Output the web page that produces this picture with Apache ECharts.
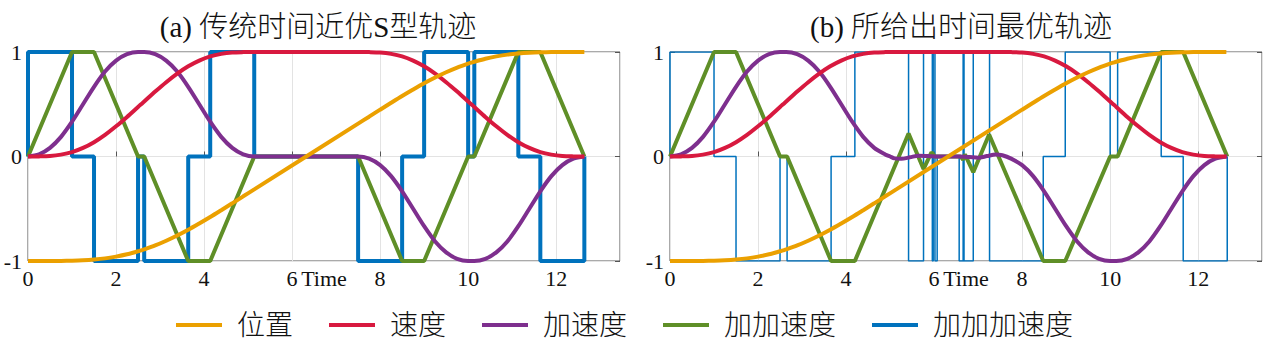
<!DOCTYPE html>
<html><head><meta charset="utf-8">
<script src="https://cdn.jsdelivr.net/npm/echarts@6/dist/echarts.min.js"></script>
<style>html,body{margin:0;padding:0;background:#fff}#c{width:1269px;height:359px}</style>
</head><body><div id="c"></div>
<script>
// ---- data ----
const titles = ['(a) 传统时间近优S型轨迹', '(b) 所给出时间最优轨迹'];
const seriesNames = ['位置', '速度', '加速度', '加加速度', '加加加速度'];
const xTicks = [0, 2, 4, 6, 8, 10, 12];
const yTicks = [-1, 0, 1];

// smooth curves (time samples shared by panel a and b for position/velocity)
const smoothT = [0,0.25,0.5,0.75,1,1.25,1.5,1.75,2,2.25,2.5,2.57,2.64,2.89,3.14,3.39,3.64,3.89,4.14,4.39,4.64,4.89,5.14,
                 7.5,7.75,8,8.25,8.5,8.75,9,9.25,9.5,9.75,10,10.07,10.14,10.39,10.64,10.89,11.14,11.39,11.64,11.89,12.14,12.39,12.64];
const posVals = [-1,-1,-1,-0.999,-0.997,-0.993,-0.986,-0.975,-0.958,-0.936,-0.907,-0.898,-0.889,-0.851,-0.806,-0.756,-0.701,-0.641,-0.579,-0.514,-0.448,-0.381,-0.315,
                 0.315,0.381,0.448,0.514,0.579,0.641,0.701,0.756,0.806,0.851,0.889,0.898,0.907,0.936,0.958,0.975,0.986,0.993,0.997,0.999,1,1,1];
const velVals = [0,0.001,0.005,0.018,0.042,0.082,0.137,0.207,0.289,0.379,0.474,0.5,0.526,0.621,0.711,0.793,0.863,0.918,0.958,0.982,0.995,0.999,1,
                 1,0.999,0.995,0.982,0.958,0.918,0.863,0.793,0.711,0.621,0.526,0.5,0.474,0.379,0.289,0.207,0.137,0.082,0.042,0.018,0.005,0.001,0];
const accA = [0,0.021,0.083,0.188,0.333,0.5,0.667,0.813,0.917,0.979,1,1,1,0.979,0.917,0.813,0.667,0.5,0.333,0.188,0.083,0.021,0,
              0,-0.021,-0.083,-0.188,-0.333,-0.5,-0.667,-0.813,-0.917,-0.979,-1,-1,-1,-0.979,-0.917,-0.813,-0.667,-0.5,-0.333,-0.188,-0.083,-0.021,0];

// panel (a) jerk / snap
const jerkTA = [0,1,1.5,2.5,2.64,3.64,4.14,5.14,7.5,8.5,9,10,10.14,11.14,11.64,12.64];
const jerkA  = [0,1,1,0,0,-1,-1,0,0,-1,-1,0,0,1,1,0];
const snapTA = [0,0,1,1.5,2.5,2.64,3.64,4.14,5.14,7.5,8.5,9,10,10.14,11.14,11.64,12.64];
const snapA  = [0,1,0,-1,0,-1,0,1,0,-1,0,1,0,1,0,-1,0];

// panel (b) acceleration / jerk / snap
const accTB = [0,0.25,0.5,0.75,1,1.25,1.5,1.75,2,2.25,2.5,2.57,2.64,2.89,3.14,3.39,3.64,3.89,4.14,4.39,4.64,4.89,5.0,5.1,5.25,5.45,5.65,5.85,6.1,6.55,6.8,7.0,7.2,7.4,7.55,
               7.75,8,8.25,8.5,8.75,9,9.25,9.5,9.75,10,10.07,10.14,10.39,10.64,10.89,11.14,11.39,11.64,11.89,12.14,12.39,12.66];
const accB  = [0,0.021,0.083,0.188,0.333,0.5,0.667,0.813,0.917,0.979,1,1,1,0.979,0.917,0.813,0.667,0.5,0.333,0.188,0.083,0.02,0.0,-0.018,-0.022,-0.008,0.008,0.005,0,0,-0.005,-0.012,0.004,0.02,0.012,
               -0.02,-0.083,-0.188,-0.333,-0.5,-0.667,-0.813,-0.917,-0.979,-1,-1,-1,-0.979,-0.917,-0.813,-0.667,-0.5,-0.333,-0.188,-0.083,-0.021,0];
const jerkTB = [0,1,1.5,2.5,2.66,3.66,4.2,5.42,5.76,5.94,6.02,6.6,6.66,6.7,6.89,7.25,8.48,8.98,10.0,10.17,11.16,11.66,12.66];
const jerkB  = [0,1,1,0,0,-1,-1,0.22,-0.12,0.04,0,0,-0.03,0.02,-0.15,0.21,-1,-1,0,0,1,1,0];
const snapTB = [0,0,1,1.5,2.5,2.66,3.66,4.2,5.42,5.76,5.96,5.98,6.02,6.07,6.57,6.66,6.68,6.89,7.26,8.48,8.98,10.0,10.17,11.16,11.66,12.66];
const snapB  = [0,1,0,-1,0,-1,0,1,-1,1,-1,1,-1,0,-1,1,-1,1,-1,0,1,0,1,0,-1,0];

// ---- styling ----
const colors = {pos:'#EBA000', vel:'#D8193F', acc:'#7E2F8E', jerk:'#5F8F27', snap:'#0072BD'};
const FONT = "'Liberation Serif', 'Noto Sans CJK SC', serif";
const pair = (t, v) => t.map((x, i) => [x, v[i]]);

const grids = [
  {left: 28, top: 52, width: 592, height: 209},
  {left: 670, top: 52, width: 592, height: 209}
];
const titleX = [313, 956];
const panels = [
  {acc: pair(smoothT, accA), jerk: pair(jerkTA, jerkA), snap: pair(snapTA, snapA), snapW: 4},
  {acc: pair(accTB, accB),   jerk: pair(jerkTB, jerkB), snap: pair(snapTB, snapB), snapW: 1.5}
];

const xAxis = [], yAxis = [], series = [], title = [];
grids.forEach((g, gi) => {
  g.show = true; g.borderColor = '#555'; g.borderWidth = 1; g.backgroundColor = '#fff';
  xAxis.push({
    type: 'value', gridIndex: gi, min: 0, max: 13.45, interval: 2,
    name: 'Time', nameLocation: 'middle', nameGap: 6, nameMoveOverlap: false,
    nameTextStyle: {fontFamily: FONT, fontSize: 22, color: '#111', verticalAlign: 'top'},
    axisLine: {show: false},
    axisTick: {show: true, inside: true, length: 5, lineStyle: {color: '#555'}},
    axisLabel: {fontFamily: FONT, fontSize: 22, color: '#111', margin: 6, showMaxLabel: false,
                formatter: v => xTicks.includes(v) ? String(v) : ''},
    splitLine: {show: true, lineStyle: {color: '#e3e3e3', width: 1}}
  });
  yAxis.push({
    type: 'value', gridIndex: gi, min: -1, max: 1, interval: 1,
    axisLine: {show: false},
    axisTick: {show: true, inside: true, length: 5, lineStyle: {color: '#555'}},
    axisLabel: {fontFamily: FONT, fontSize: 22, color: '#111', margin: 6,
                formatter: v => yTicks.includes(v) ? String(v) : ''},
    splitLine: {show: true, lineStyle: {color: '#e3e3e3', width: 1}}
  });
  yAxis.push({
    type: 'value', gridIndex: gi, min: -1, max: 1, interval: 1, position: 'right',
    axisLine: {show: false}, axisLabel: {show: false}, splitLine: {show: false},
    axisTick: {show: true, inside: true, length: 5, lineStyle: {color: '#555'}}
  });
  const p = panels[gi];
  const yi = gi * 2;
  const base = {type: 'line', xAxisIndex: gi, yAxisIndex: yi, showSymbol: false, symbol: 'none', animation: false};
  series.push(Object.assign({}, base, {name: seriesNames[4], data: p.snap, step: 'end',
    lineStyle: {color: colors.snap, width: p.snapW}, itemStyle: {color: colors.snap}}));
  series.push(Object.assign({}, base, {name: seriesNames[3], data: p.jerk,
    lineStyle: {color: colors.jerk, width: 4}, itemStyle: {color: colors.jerk}}));
  series.push(Object.assign({}, base, {name: seriesNames[2], data: p.acc, smooth: 0.3,
    lineStyle: {color: colors.acc, width: 4}, itemStyle: {color: colors.acc}}));
  series.push(Object.assign({}, base, {name: seriesNames[1], data: pair(smoothT, velVals), smooth: 0.3,
    lineStyle: {color: colors.vel, width: 4}, itemStyle: {color: colors.vel}}));
  series.push(Object.assign({}, base, {name: seriesNames[0], data: pair(smoothT, posVals), smooth: 0.3,
    lineStyle: {color: colors.pos, width: 4}, itemStyle: {color: colors.pos}}));
  title.push({text: titles[gi], left: titleX[gi], top: 7, textAlign: 'center',
    textStyle: {fontFamily: FONT, fontSize: 29, fontWeight: 300, color: '#111'}});
});

const chart = echarts.init(document.getElementById('c'), null, {renderer: 'svg'});
chart.setOption({
  animation: false,
  backgroundColor: '#fff',
  title: title,
  grid: grids,
  xAxis: xAxis,
  yAxis: yAxis,
  legend: {
    data: seriesNames, top: 306, left: 171, icon: 'rect', itemWidth: 46, itemHeight: 4, itemGap: 36,
    textStyle: {fontFamily: FONT, fontSize: 28, fontWeight: 300, color: '#111', padding: [0, 0, 0, 10]},
    itemStyle: {borderWidth: 0}
  },
  series: series
});
</script></body></html>
